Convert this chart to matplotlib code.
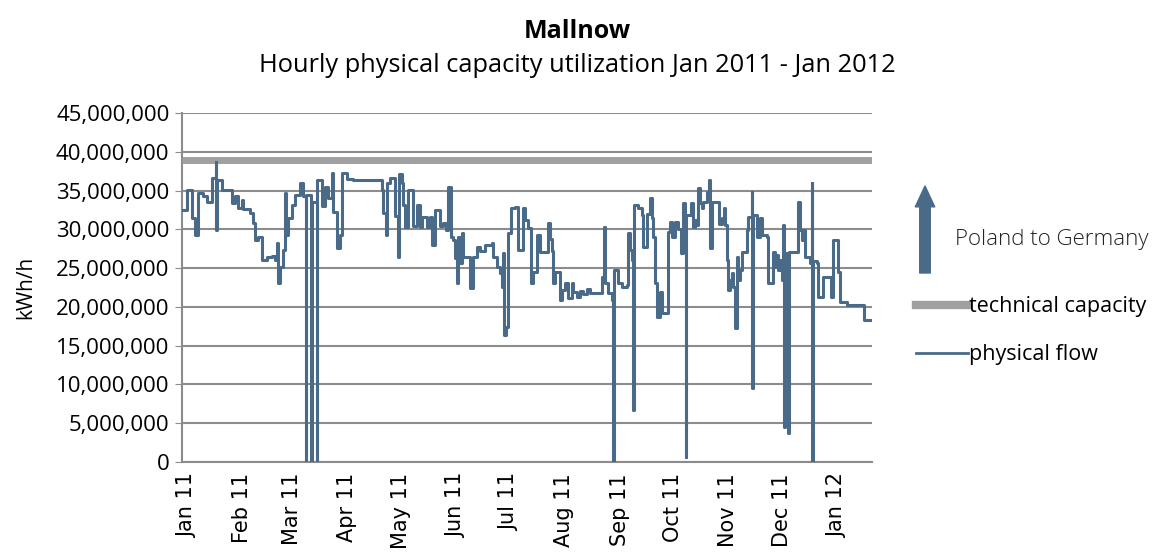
import matplotlib
matplotlib.use("Agg")
import matplotlib.pyplot as plt
import matplotlib.dates as mdates
from matplotlib.lines import Line2D
import matplotlib.ticker as mticker
import matplotlib.transforms as mtransforms
import pandas as pd
import numpy as np

plt.rcParams['font.family'] = ['Open Sans', 'DejaVu Sans']

# days since 1 Jan 2011 where the hourly flow changes, flow in million kWh/h
flow_day = [0.0, 2.6, 5.4, 7.3, 9.2, 11.8, 13.9, 17.0, 19.0, 19.3, 19.6, 22.3,
            27.9, 29.8, 31.5, 33.5, 34.3, 38.2, 40.1, 41.0, 42.9, 44.8, 47.6,
            50.4, 52.2, 53.2, 54.1, 55.1, 56.9, 57.9, 58.4, 59.7, 61.6, 63.5,
            66.3, 67.8, 69.5, 69.8, 72.5, 72.8, 75.7, 76.0, 78.5, 80.3, 82.2,
            84.1, 85.0, 86.9, 88.8, 90.1, 92.5, 96.2, 112.2, 113.1, 114.4,
            115.4, 116.9, 119.7, 121.5, 122.1, 123.4, 124.3, 125.3, 127.1,
            130.0, 131.8, 133.7, 134.7, 137.8, 139.3, 140.3, 142.1, 144.9,
            146.8, 148.3, 149.6, 151.0, 152.4, 153.4, 154.3, 155.2, 156.2,
            157.1, 158.0, 161.8, 163.3, 165.6, 167.4, 170.2, 174.0, 174.9,
            176.8, 178.7, 179.6, 180.5, 181.1, 182.0, 183.3, 184.7, 187.1,
            188.9, 191.4, 192.7, 194.6, 196.1, 197.4, 199.3, 201.1, 205.8,
            206.7, 207.7, 208.2, 209.6, 212.4, 213.3, 215.2, 217.0, 218.9,
            219.8, 221.7, 223.6, 225.5, 227.4, 229.2, 235.8, 237.1, 237.6,
            239.5, 241.4, 242.3, 242.6, 245.1, 247.0, 249.8, 250.7, 251.7,
            253.0, 253.6, 253.9, 256.4, 258.2, 259.2, 261.1, 262.9, 263.9,
            264.8, 265.7, 266.7, 268.5, 269.5, 273.2, 274.2, 275.1, 277.0,
            278.8, 280.2, 281.3, 282.6, 283.1, 283.4, 285.8, 286.9, 288.2,
            289.2, 290.1, 291.0, 292.0, 292.9, 294.8, 296.2, 296.6, 297.6,
            301.9, 303.2, 304.5, 305.1, 306.0, 306.9, 307.9, 308.8, 309.7,
            310.7, 311.6, 312.5, 313.5, 314.4, 317.2, 318.1, 320.1, 320.4,
            320.7, 322.8, 324.7, 325.7, 328.5, 329.4, 332.2, 333.1, 334.1,
            335.0, 336.0, 336.9, 337.8, 338.2, 338.6, 339.2, 340.6, 340.9,
            346.3, 347.2, 348.1, 349.1, 350.0, 352.8, 353.8, 354.1, 354.4,
            356.6, 357.5, 360.3, 364.6, 365.6, 368.7, 369.7, 373.4, 383.1,
            387.4]
flow_m = [32.5, 35.1, 31.4, 29.3, 34.7, 34.3, 33.5, 36.6, 38.7, 29.9, 36.3, 35.1,
          33.4, 34.3, 32.8, 33.8, 32.6, 32.1, 30.8, 28.6, 29.0, 26.0, 26.4,
          26.6, 26.0, 28.2, 23.1, 25.1, 27.3, 34.7, 29.3, 31.4, 33.1, 34.4,
          36.0, 34.3, 0.0, 34.4, 0.0, 33.5, 0.0, 36.3, 33.0, 35.5, 34.0,
          37.3, 32.2, 27.6, 29.3, 37.3, 36.5, 36.3, 35.1, 32.1, 29.3,
          36.0, 36.6, 31.7, 26.4, 37.1, 36.0, 33.1, 30.3, 35.1,
          30.4, 33.1, 30.3, 31.6, 30.3, 31.6, 28.0, 32.5, 30.4,
          30.8, 29.9, 35.4, 29.0, 28.6, 26.3, 23.1, 29.0, 25.7,
          29.5, 26.4, 22.4, 26.4, 27.7, 27.2, 28.0, 28.2, 26.4,
          25.1, 24.4, 22.6, 26.9, 16.4, 17.4, 29.5, 32.7, 32.9,
          27.3, 32.7, 31.2, 30.2, 23.1, 24.5, 29.3, 27.1, 30.8,
          28.8, 27.2, 23.1, 24.5, 20.9, 22.2, 23.1, 21.1, 23.1,
          21.9, 21.3, 22.0, 21.6, 22.3, 21.8, 23.9, 30.3, 23.1,
          21.8, 20.9, 0.0, 24.7, 23.1, 22.6, 22.8, 29.5, 27.3,
          26.0, 6.7, 33.1, 32.7, 31.8, 27.7, 32.0, 34.0, 31.5,
          29.0, 23.1, 18.7, 21.9, 19.2, 29.6, 30.9, 29.0, 31.0,
          30.0, 26.9, 33.4, 30.0, 0.6, 31.8, 33.4, 30.3, 31.2,
          30.5, 35.3, 33.4, 32.7, 33.5, 34.8, 36.3, 27.6, 33.5,
          30.7, 31.5, 32.8, 30.5, 26.0, 22.2, 23.5, 24.4, 22.6,
          17.3, 26.4, 23.5, 24.8, 27.1, 29.9, 31.6, 34.8, 9.5,
          31.8, 29.0, 31.4, 29.3, 29.0, 23.1, 27.1, 25.1, 26.7,
          24.8, 26.0, 23.5, 30.5, 4.5, 17.4, 26.9, 3.7, 27.1,
          33.5, 29.9, 28.6, 29.9, 26.4, 25.7, 36.0, 0.0, 25.9,
          25.7, 21.3, 23.9, 21.3, 28.6, 24.5, 20.6, 20.2, 18.3,
          18.3]
tech_capacity_m = 38.9

start = pd.Timestamp("2011-01-01")
dates = start + pd.to_timedelta(flow_day, unit="D")
flow = np.array(flow_m) * 1e6
months = pd.date_range("2011-01-01", "2012-01-01", freq="MS")

fig = plt.figure(figsize=(11.59, 5.57), dpi=100)
ax = fig.add_axes([0.157, 0.1706, 0.595, 0.6266])

ax.plot([dates[0], dates[-1]], [tech_capacity_m * 1e6] * 2, color="#a0a0a0",
        lw=5, solid_capstyle="butt", label="technical capacity", zorder=3)
ax.step(dates, flow, where="post", color="#4a6a89", lw=2.2,
        label="physical flow", zorder=4)

ax.set_xlim(start, dates[-1])
ax.set_ylim(0, 45e6)
ax.yaxis.set_major_locator(mticker.MultipleLocator(5e6))
ax.yaxis.set_major_formatter(mticker.FuncFormatter(lambda v, p: f"{v:,.0f}"))
ax.grid(axis="y", color="#8c8c8c", lw=1.5)
ax.set_axisbelow(True)

ax.set_xticks(months)
ax.xaxis.set_major_formatter(mdates.DateFormatter("%b %y"))
ax.tick_params(axis="x", length=0, pad=8)
ax.tick_params(axis="y", labelsize=16, length=5, color="#8c8c8c", pad=4)
shift = mtransforms.ScaledTranslation(5 / 100, 0, fig.dpi_scale_trans)
for lbl in ax.get_xticklabels():
    lbl.set_rotation(90)
    lbl.set_fontfamily("DejaVu Sans")
    lbl.set_fontsize(15)
    lbl.set_transform(lbl.get_transform() + shift)

for s in ["top", "right"]:
    ax.spines[s].set_visible(False)
for s in ["left", "bottom"]:
    ax.spines[s].set_color("#8c8c8c")
    ax.spines[s].set_linewidth(1.5)

ax.set_ylabel("kWh/h", fontsize=15, labelpad=14)

fig.text(0.498, 0.944, "Mallnow", ha="center", va="center", fontsize=18,
         fontweight="bold")
fig.text(0.498, 0.882, "Hourly physical capacity utilization Jan 2011 - Jan 2012",
         ha="center", va="center", fontsize=18.3)

# direction arrow
ax.annotate("", xy=(925, 557 - 186), xytext=(925, 557 - 273),
            xycoords="figure pixels", textcoords="figure pixels",
            arrowprops=dict(arrowstyle="simple,head_length=0.75,head_width=0.7,tail_width=0.38",
                            color="#4a6a89", mutation_scale=20, shrinkA=0, shrinkB=0))
fig.text(955 / 1159, 1 - 240 / 557, "Poland to Germany", fontsize=16,
         fontweight="light", va="center", ha="left", color="#222222")

handles = [Line2D([0], [0], color="#a0a0a0", lw=6),
           Line2D([0], [0], color="#4a6a89", lw=2)]
fig.legend(handles, ["technical capacity", "physical flow"],
           loc="upper left", bbox_to_anchor=(897 / 1159, 1 - 277 / 557),
           frameon=False, fontsize=15.5, handlelength=2.4, handletextpad=0.05,
           labelspacing=1.25)

fig.savefig("out.png", dpi=100)
